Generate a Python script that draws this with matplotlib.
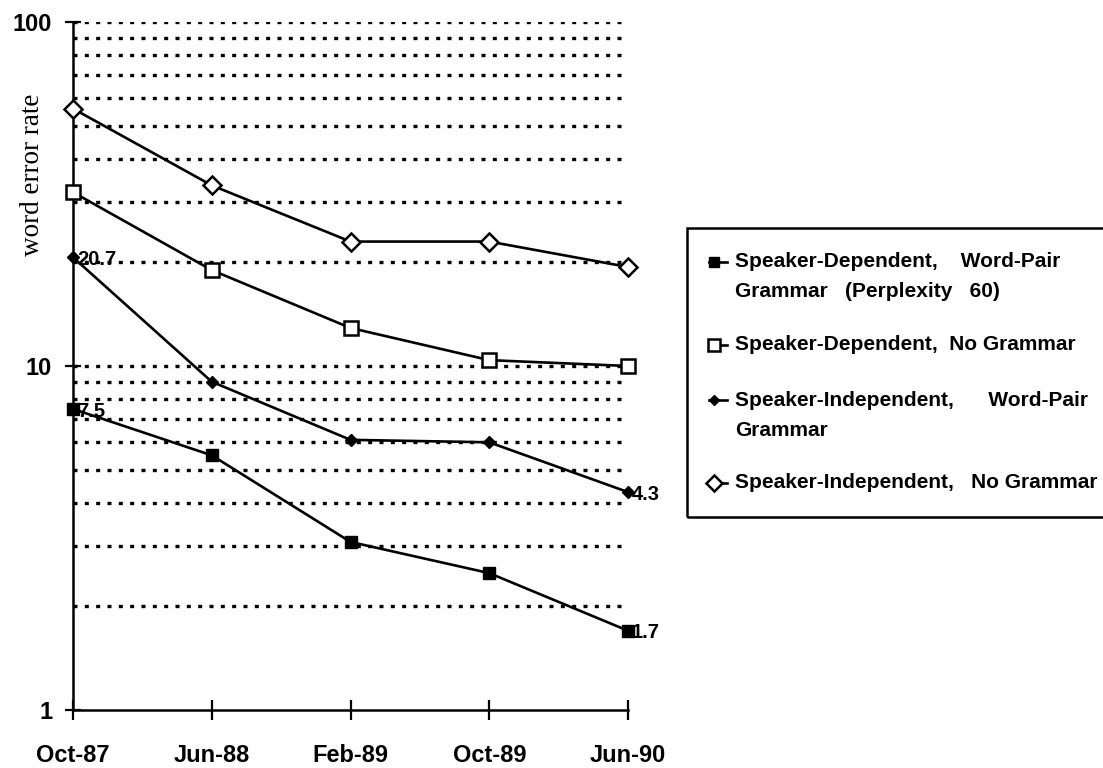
import matplotlib
matplotlib.use("Agg")
import matplotlib.pyplot as plt
from matplotlib.ticker import NullLocator
from matplotlib.lines import Line2D
from matplotlib.patches import Rectangle

# ---- data ----
dates = ["Oct-87", "Jun-88", "Feb-89", "Oct-89", "Jun-90"]
sd_wordpair = [7.5, 5.5, 3.08, 2.5, 1.7]
sd_nogrammar = [32.0, 19.0, 12.9, 10.4, 10.0]
si_wordpair = [20.7, 9.0, 6.1, 6.0, 4.3]
si_nogrammar = [56.0, 33.5, 23.0, 23.0, 19.4]
series_labels = [
    "Speaker-Dependent,    Word-Pair\nGrammar   (Perplexity   60)",
    "Speaker-Dependent,  No Grammar",
    "Speaker-Independent,      Word-Pair\nGrammar",
    "Speaker-Independent,   No Grammar",
]
ytick_vals = [1, 10, 100]
ytick_labels = ["1", "10", "100"]
grid_levels = [2, 3, 4, 5, 6, 7, 8, 9, 10, 20, 30, 40, 50, 60, 70, 80, 90, 100]

plt.rcParams['font.family'] = ['Liberation Sans', 'DejaVu Sans']

W, H = 1103, 768
fig = plt.figure(figsize=(W / 100, H / 100), dpi=100)
ax = fig.add_axes([73 / W, 58 / H, 555 / W, 688 / H])
x = list(range(len(dates)))

ax.set_yscale('log')
ax.set_xlim(0, len(dates) - 1)
ax.set_ylim(1, 100)

# dotted reference lines
ax.hlines(grid_levels, 0, (len(dates) - 1) * 0.99, colors='black',
          linestyles=(0, (1.2, 2.2)), linewidth=2.4, zorder=1)

lw = 1.9
styles = [
    dict(marker='s', ms=8, mfc='black', mec='black', mew=1.0),
    dict(marker='s', ms=10, mfc='white', mec='black', mew=1.8),
    dict(marker='D', ms=6.5, mfc='black', mec='black', mew=1.0),
    dict(marker='D', ms=9, mfc='white', mec='black', mew=1.8),
]
all_series = [sd_wordpair, sd_nogrammar, si_wordpair, si_nogrammar]
for ser, st in zip(all_series, styles):
    ax.plot(x, ser, color='black', lw=lw, clip_on=False, zorder=3, **st)

# value labels at first and last points
for ser in (sd_wordpair, si_wordpair):
    for i in (0, len(ser) - 1):
        ax.annotate(f"{ser[i]}", (x[i], ser[i]), xytext=(3, -1.5),
                    textcoords='offset points', ha='left', va='center',
                    fontsize=14.5, fontweight='bold', zorder=4)

# axes styling
for s in ('top', 'right'):
    ax.spines[s].set_visible(False)
for s in ('left', 'bottom'):
    ax.spines[s].set_linewidth(1.8)
ax.set_xticks(x)
ax.set_xticklabels(dates, fontsize=17, fontweight='bold')
ax.set_yticks(ytick_vals)
ax.set_yticklabels(ytick_labels, fontsize=17, fontweight='bold')
ax.yaxis.set_minor_locator(NullLocator())
ax.tick_params(axis='x', direction='inout', length=15, width=1.6, pad=17)
ax.tick_params(axis='y', direction='inout', length=12, width=1.6, pad=9)

ax.set_ylabel('word error rate', fontfamily='Liberation Serif', fontsize=19.5)
ax.yaxis.set_label_coords(-0.050, 0.778)

# ---- legend box (drawn in figure pixels) ----
def fx(px):
    return px / W

def fy(py):
    return 1 - py / H

fig.add_artist(Rectangle((fx(687), fy(517)), fx(1115) - fx(687), fy(228) - fy(517),
                         transform=fig.transFigure, fill=False,
                         edgecolor='black', linewidth=1.8, clip_on=False))
entry_rows = [262, 345, 400, 483]
for lab, st, row in zip(series_labels, styles, entry_rows):
    fig.add_artist(Line2D([fx(709), fx(727)], [fy(row), fy(row)],
                          transform=fig.transFigure, color='black', lw=lw))
    fig.add_artist(Line2D([fx(714)], [fy(row)], transform=fig.transFigure,
                          color='black', lw=0,
                          **{**st, 'ms': st['ms'] * 0.85}))
    for k, line in enumerate(lab.split('\n')):
        fig.text(fx(735), fy(row + 30 * k), line, ha='left', va='center',
                 fontsize=15, fontweight='bold')

fig.savefig('out.png', dpi=100)
